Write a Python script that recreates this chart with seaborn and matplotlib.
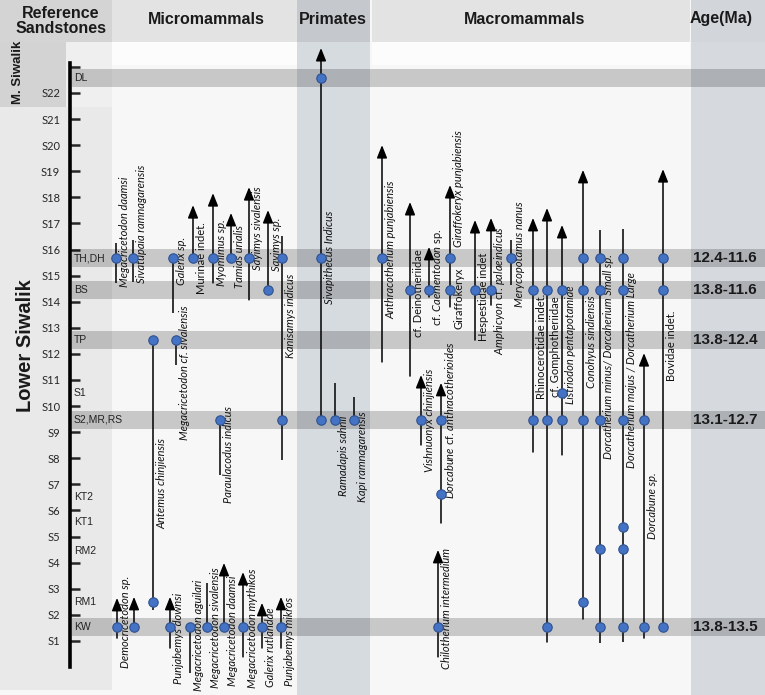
import matplotlib
matplotlib.use("Agg")
import matplotlib.pyplot as plt
from matplotlib.patches import Rectangle
import pandas as pd
import seaborn as sns

# sandstone scale (S1..S22, top tick unlabeled)
sandstone_levels = list(range(1, 24))
sandstone_labels = ["S%d" % i for i in range(1, 23)] + [""]

# fossil localities drawn as gray bands, level on the sandstone scale
band_names = ["DL", "TH,DH", "BS", "TP", "S2,MR,RS", "KW"]
band_levels = [22.57, 15.67, 14.45, 12.53, 9.47, 1.54]
band_ages = ["", "12.4-11.6", "13.8-11.6", "13.8-12.4", "13.1-12.7", "13.8-13.5"]

# other localities (no band)
other_names = ["S1", "KT2", "KT1", "RM2", "RM1"]
other_levels = [10.50, 6.52, 5.56, 4.45, 2.49]

# taxa: label, column, range top/bottom (levels), open top (arrow), occurrences, label level, style
taxon_labels = [
    "Megacricetodon daamsi", "Sivatupaia ramnagarensis", "Galerix sp.", "Murinae indet.",
    "Myomimus sp.", "Tamias urialis", "Sayimys sivalensis", "Sayimys sp.", "Kanisamys indicus",
    "Antemus chinjiensis", "Megacricetodon cf. sivalensis", "Paraulacodus indicus",
    "Democricetodon sp.", "", "Punjabemys downsi", "Megacricetodon aguilari",
    "Megacricetodon sivalensis", "Megacricetodon daamsi", "Megacricetodon mythikos",
    "Galerix rutlandae", "Punjabemys mikros",
    "Sivapithecus Indicus", "Ramadapis sahnii", "Kapi ramnagarensis",
    "Anthracotherium punjabiensis", "cf. Deinotheriidae", r"cf. $\mathit{Caementodon}$ sp.",
    "Giraffokeryx punjabiensis", "Giraffokeryx", "Hespestidae indet",
    r"$\mathit{Amphicyon}$ cf. $\mathit{palaeindicus}$", "Merycopotamus nanus",
    "Rhinocerotidae indet.", "cf. Gomphotheriidae", "Listriodon pentapotamiae",
    "Conohyus sindiensis", "Dorcatherium minus/ Dorcaherium Small sp.",
    "Dorcatherium majus / Dorcatherium Large", "Dorcabune sp.", "Bovidae indet.",
    "Vishnuonyx chinjiensis", r"$\mathit{Dorcabune}$ cf. $\mathit{anthracotherioides}$",
    "Chilotherium intermedium",
]
taxon_col = [116, 133, 173, 193, 213, 231, 249, 268, 282,
             153, 176, 220,
             117, 134, 170, 190, 207, 224, 243, 262, 281,
             321, 335, 354,
             382, 410, 429, 450, 450, 475, 491, 511, 533, 547, 562, 583, 600, 623, 644, 663,
             421, 441, 438]
range_top = [16.25, 16.36, 15.67, 17.70, 18.16, 17.40, 18.39, 17.51, 16.52,
             12.53, 12.53, 9.47,
             2.65, 2.69, 2.69, 1.54, 3.22, 3.99, 3.64, 2.46, 2.69,
             23.72, 10.89, 10.35,
             20.0, 17.82, 16.10, 18.47, None, 17.13, 17.21, 16.36, 17.21, 17.59, 16.94, 19.05,
             16.75, 16.79, 12.03, 19.08,
             11.19, 10.89, 4.49]
range_bottom = [14.72, 14.76, 13.57, 15.67, 14.72, 15.52, 14.07, 14.45, 7.93,
                2.19, 11.57, 7.36,
                1.11, 1.54, 0.73, -0.23, 1.54, 1.45, 0.39, 0.73, 0.73,
                9.47, 9.47, 9.47,
                11.69, 11.15, 14.18, 13.80, None, 12.53, 13.87, 14.64, 8.24, 0.96, 8.13, 1.84,
                0.92, 0.96, 1.11, 1.54,
                8.51, 5.52, 0.39]
open_top = [False, False, False, True, True, True, True, True, False,
            False, False, False,
            True, True, True, False, False, True, True, True, True,
            True, False, False,
            True, True, True, True, False, True, True, False, True, True, True, True,
            False, False, True, True,
            True, True, True]
occurrences = [
    [15.67], [15.67], [15.67], [15.67], [15.67], [15.67], [15.67], [14.45], [15.67, 9.47],
    [12.53, 2.49], [12.53], [9.47],
    [1.54], [1.54], [1.54], [1.54], [1.54], [1.54], [1.54], [1.54], [1.54],
    [22.57, 15.67, 9.47], [9.47], [9.47],
    [15.67], [14.45], [14.45], [15.67, 14.45], [], [14.45], [14.45], [15.67],
    [14.45, 9.47], [14.45, 9.47, 1.54], [14.45, 10.50, 9.47], [15.67, 14.45, 9.47, 2.49],
    [15.67, 14.45, 9.47, 4.52, 1.54], [15.67, 14.45, 9.47, 5.37, 4.52, 1.54],
    [9.47, 1.54], [15.67, 14.45, 1.54],
    [9.47], [9.47, 6.63], [1.54],
]
label_level = [16.67, 16.98, 15.56, 15.67, 15.87, 15.75, 16.8, 16.2, 13.45,
               7.05, 11.27, 8.16,
               1.73, 0, 1.08, 1.22, 1.5, 1.4, 1.5, 0.75, 1.0,
               15.71, 8.09, 8.05,
               15.98, 14.33, 14.95, 18.32, 14.14, 14.2, 14.45, 15.83, 12.3, 12.26, 12.34, 12.46,
               11.88, 11.38, 6.17, 12.3,
               9.47, 9.47, 2.23]
label_upright = ["Murinae indet.", "cf. Deinotheriidae", "Giraffokeryx", "Hespestidae indet",
                 "Rhinocerotidae indet.", "cf. Gomphotheriidae", "Bovidae indet."]

sns.set_theme(style="white")
plt.rcParams["font.family"] = ["Lato", "DejaVu Sans"]
plt.rcParams["mathtext.fontset"] = "custom"
plt.rcParams["mathtext.it"] = "Lato:italic"
plt.rcParams["mathtext.rm"] = "Lato"
narrow = ["Liberation Sans Narrow", "Liberation Sans", "DejaVu Sans"]
blue = "#3f7fd8"

fig = plt.figure(figsize=(7.65, 6.95), dpi=100)

# background panels in pixel units
bg = fig.add_axes([0, 0, 1, 1])
bg.set_xlim(0, 765)
bg.set_ylim(695, 0)
bg.axis("off")


def box(x0, y0, x1, y1, c):
    bg.add_patch(Rectangle((x0, y0), x1 - x0, y1 - y0, facecolor=c, edgecolor="none"))


box(0, 0, 765, 695, "#f7f7f7")
box(0, 42, 112, 690, "#e9e9e9")
box(66, 42, 112, 107, "#efefef")
box(0, 42, 66, 107, "#d3d3d3")
box(0, 0, 112, 42, "#d4d4d4")
box(112, 0, 297, 42, "#e3e3e3")
box(297, 42, 370, 695, "#d6dbe0")
box(297, 0, 370, 42, "#c5c9cd")
box(372, 0, 690, 42, "#e3e3e3")
box(691, 42, 765, 695, "#d6dadf")
box(691, 0, 765, 42, "#d2d6da")
box(112, 42, 297, 65, "#fcfcfc")
box(372, 42, 690, 65, "#fcfcfc")

hdr = dict(fontsize=11.5, fontweight="bold", family=narrow, ha="center", va="center", color="#1a1a1a")
bg.text(61, 21, "Reference\nSandstones", linespacing=1.0, **hdr)
bg.text(206, 19, "Micromammals", **hdr)
bg.text(333, 19, "Primates", **hdr)
bg.text(525, 19, "Macromammals", **hdr)
bg.text(721, 19, "Age(Ma)", **hdr)
bg.text(18, 72, "M. Siwalik", rotation=90, fontsize=9.5, fontweight="bold",
        family=["Liberation Sans", "DejaVu Sans"], ha="center", va="center", color="#1a1a1a")
bg.text(26, 346, "Lower Siwalik", rotation=90, fontsize=14.5, fontweight="bold",
        family=narrow, ha="center", va="center", color="#1a1a1a")

# data axes: x = column position, y = sandstone level
ax = fig.add_axes([0, 0, 1, 1], zorder=2)
ax.patch.set_alpha(0)

for lv in band_levels:
    ax.axhspan(lv - 0.34, lv + 0.34, xmin=72 / 765, xmax=1, color="black", alpha=0.19, lw=0, zorder=1)

for name, lv in zip(band_names, band_levels):
    ax.text(74, lv, name, fontsize=7.5, family=["Liberation Sans", "DejaVu Sans"],
            va="center", ha="left", color="#222222", zorder=4)
for name, lv in zip(other_names, other_levels):
    ax.text(74, lv, name, fontsize=7.5, family=["Liberation Sans", "DejaVu Sans"],
            va="center", ha="left", color="#222222", zorder=4)
for age, lv in zip(band_ages, band_levels):
    ax.text(693, lv, age, fontsize=11, fontweight="bold", family=narrow,
            va="center", ha="left", color="#1a1a1a", zorder=4)

# stratigraphic ranges
for x, top, bot, arrow in zip(taxon_col, range_top, range_bottom, open_top):
    if top is None:
        continue
    if arrow:
        ax.annotate("", xy=(x, top), xytext=(x, bot), zorder=3,
                    arrowprops=dict(arrowstyle="-|>,head_length=0.55,head_width=0.22",
                                    color="black", lw=1.1, shrinkA=0, shrinkB=0, mutation_scale=14))
    else:
        ax.vlines(x, bot, top, color="black", lw=1.1, zorder=3)

# occurrences
rows = []
for x, occ in zip(taxon_col, occurrences):
    for lv in occ:
        rows.append({"col": x, "level": lv})
occ_df = pd.DataFrame(rows)
sns.scatterplot(data=occ_df, x="col", y="level", s=46, color="#4472c4", edgecolor="#2f528f",
                linewidth=0.8, zorder=5, ax=ax, legend=False)

# taxon labels
for name, x, lv in zip(taxon_labels, taxon_col, label_level):
    if not name:
        continue
    style = "normal" if (name in label_upright or "$" in name) else "italic"
    ax.text(x + 9, lv, name, rotation=90, ha="center", va="center", fontsize=8,
            style=style, color="#111111", zorder=4)

ax.set_xlim(0, 765)
ax.set_ylim(-1.07, 25.56)
ax.set_xlabel("")
ax.set_ylabel("")
ax.set_xticks([])
ax.set_yticks(sandstone_levels, sandstone_labels)
ax.tick_params(axis="y", left=True, direction="in", length=7, width=1.8, pad=7, labelsize=8)
for lvl, tl, tk in zip(sandstone_levels, ax.get_yticklabels(), ax.yaxis.get_major_ticks()):
    c = blue if lvl % 2 else "black"
    tl.set_color(c)
    tl.set_fontweight("bold")
    tl.set_family(narrow)
    tk.tick1line.set_color(c)
for s in ["top", "right", "bottom"]:
    ax.spines[s].set_visible(False)
ax.spines["left"].set_position(("data", 70))
ax.spines["left"].set_bounds(0.0, 23.15)
ax.spines["left"].set_linewidth(2.6)
ax.spines["left"].set_color("black")

fig.savefig("out.png", dpi=100)
